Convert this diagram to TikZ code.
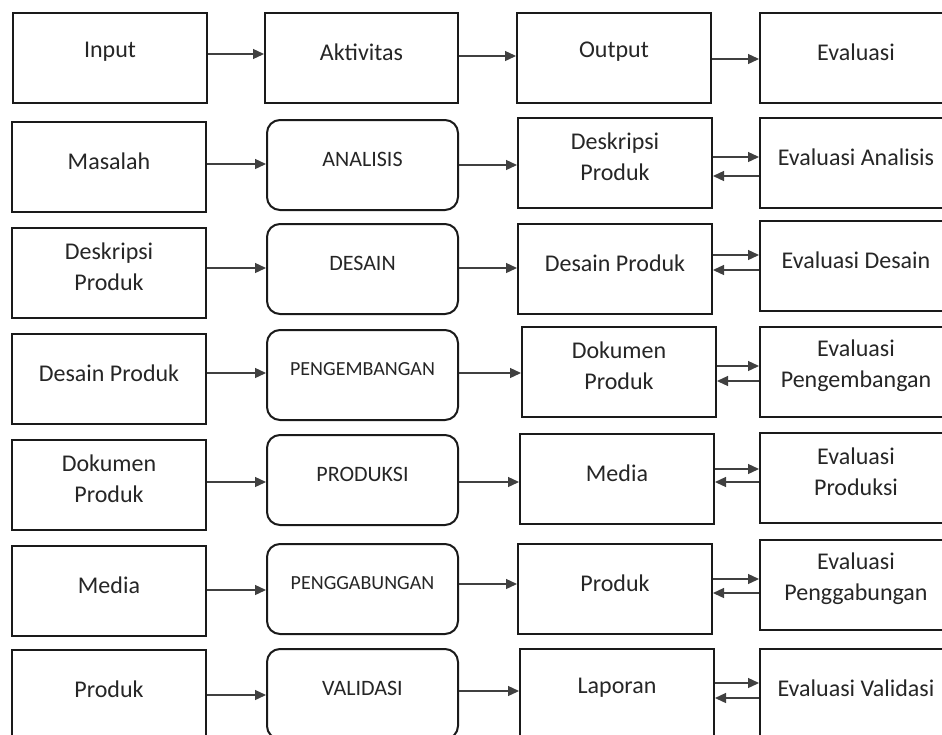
\documentclass[tikz,border=0pt]{standalone}
\usepackage{fontspec}
\setmainfont{Carlito}
\usetikzlibrary{arrows.meta}
\definecolor{edge}{HTML}{1A1A1A}
\definecolor{ink}{HTML}{262626}
\definecolor{wire}{HTML}{404040}
\begin{document}
\begin{tikzpicture}[x=1pt,y=-1pt,
  box/.style={draw=edge, line width=2pt, minimum height=90pt, inner sep=0pt, anchor=north},
  rbox/.style={box, rounded corners=13pt},
  lbl/.style={anchor=center, yshift=-40pt, inner sep=0pt, align=center, text=ink,
              font=\fontsize{24}{31}\selectfont},
  caps/.style={lbl, font=\fontsize{22}{26}\selectfont},
  capsw/.style={lbl, font=\fontsize{20}{24}\selectfont},
  conn/.style={draw=wire, line width=1.3pt, -{Triangle[length=11pt,width=10pt]}},
]
\useasboundingbox (0,0) rectangle (942,734);
\fill[white] (0,0) rectangle (942,734);
\clip (0,0) rectangle (942,734);

% header row
\node[box, minimum width=194pt, label={[lbl]north:Input}]     (h1) at (110,12) {};
\node[box, minimum width=193pt, label={[lbl]north:Aktivitas}] (h2) at (361.5,12) {};
\node[box, minimum width=194pt, label={[lbl]north:Output}]    (h3) at (614,12) {};
\node[box, minimum width=192pt, label={[lbl]north:Evaluasi}]  (h4) at (856,12) {};

% analisis
\node[box,  minimum width=194pt, label={[lbl]north:Masalah}]  (a1) at (109,121) {};
\node[rbox, minimum width=191pt, label={[caps]north:ANALISIS}] (a2) at (362.5,119) {};
\node[box,  minimum width=194pt, label={[lbl]north:{Deskripsi\\Produk}}] (a3) at (615,117) {};
\node[box,  minimum width=192pt, label={[lbl]north:Evaluasi Analisis}]  (a4) at (856,117) {};

% desain
\node[box,  minimum width=194pt, label={[lbl]north:{Deskripsi\\Produk}}] (d1) at (109,227) {};
\node[rbox, minimum width=191pt, label={[caps]north:DESAIN}]  (d2) at (362.5,223) {};
\node[box,  minimum width=194pt, label={[lbl]north:Desain Produk}]   (d3) at (615,223) {};
\node[box,  minimum width=192pt, label={[lbl]north:Evaluasi Desain}] (d4) at (856,220) {};

% pengembangan
\node[box,  minimum width=194pt, label={[lbl]north:Desain Produk}] (p1) at (109,333) {};
\node[rbox, minimum width=191pt, label={[capsw]north:PENGEMBANGAN}] (p2) at (362.5,329) {};
\node[box,  minimum width=194pt, label={[lbl]north:{Dokumen\\Produk}}] (p3) at (619,326) {};
\node[box,  minimum width=192pt, label={[lbl]north:{Evaluasi\\Pengembangan}}] (p4) at (856,326) {};

% produksi
\node[box,  minimum width=194pt, label={[lbl]north:{Dokumen\\Produk}}] (r1) at (109,439) {};
\node[rbox, minimum width=191pt, label={[caps]north:PRODUKSI}] (r2) at (362.5,434) {};
\node[box,  minimum width=194pt, label={[lbl]north:Media}] (r3) at (617,433) {};
\node[box,  minimum width=192pt, label={[lbl]north:{Evaluasi\\Produksi}}] (r4) at (856,432) {};

% penggabungan
\node[box,  minimum width=194pt, label={[lbl]north:Media}] (g1) at (109,545) {};
\node[rbox, minimum width=191pt, label={[capsw]north:PENGGABUNGAN}] (g2) at (362.5,543) {};
\node[box,  minimum width=194pt, label={[lbl]north:Produk}] (g3) at (615,543) {};
\node[box,  minimum width=192pt, label={[lbl]north:{Evaluasi\\Penggabungan}}] (g4) at (856,539) {};

% validasi
\node[box,  minimum width=194pt, label={[lbl]north:Produk}] (v1) at (109,649) {};
\node[rbox, minimum width=191pt, label={[caps]north:VALIDASI}] (v2) at (362.5,648) {};
\node[box,  minimum width=194pt, label={[lbl]north:Laporan}] (v3) at (617,648) {};
\node[box,  minimum width=192pt, label={[lbl]north:Evaluasi Validasi}] (v4) at (856,648) {};

% header connectors
\draw[conn] (h1.east |- 0,54) -- (h2.west |- 0,54);
\draw[conn] (h2.east |- 0,56) -- (h3.west |- 0,56);
\draw[conn] (h3.east |- 0,59) -- (h4.west |- 0,59);

% stage connectors
\draw[conn] (a1.east |- 0,164) -- (a2.west |- 0,164);
\draw[conn] (a2.east |- 0,165) -- (a3.west |- 0,165);
\draw[conn] (a3.east |- 0,157) -- (a4.west |- 0,157);
\draw[conn] (a4.west |- 0,176) -- (a3.east |- 0,176);

\draw[conn] (d1.east |- 0,268) -- (d2.west |- 0,268);
\draw[conn] (d2.east |- 0,268) -- (d3.west |- 0,268);
\draw[conn] (d3.east |- 0,255) -- (d4.west |- 0,255);
\draw[conn] (d4.west |- 0,270) -- (d3.east |- 0,270);

\draw[conn] (p1.east |- 0,373) -- (p2.west |- 0,373);
\draw[conn] (p2.east |- 0,373) -- (p3.west |- 0,373);
\draw[conn] (p3.east |- 0,366) -- (p4.west |- 0,366);
\draw[conn] (p4.west |- 0,381) -- (p3.east |- 0,381);

\draw[conn] (r1.east |- 0,482) -- (r2.west |- 0,482);
\draw[conn] (r2.east |- 0,482) -- (r3.west |- 0,482);
\draw[conn] (r3.east |- 0,469) -- (r4.west |- 0,469);
\draw[conn] (r4.west |- 0,482) -- (r3.east |- 0,482);

\draw[conn] (g1.east |- 0,590) -- (g2.west |- 0,590);
\draw[conn] (g2.east |- 0,584) -- (g3.west |- 0,584);
\draw[conn] (g3.east |- 0,579) -- (g4.west |- 0,579);
\draw[conn] (g4.west |- 0,593) -- (g3.east |- 0,593);

\draw[conn] (v1.east |- 0,695) -- (v2.west |- 0,695);
\draw[conn] (v2.east |- 0,691) -- (v3.west |- 0,691);
\draw[conn] (v3.east |- 0,683) -- (v4.west |- 0,683);
\draw[conn] (v4.west |- 0,698) -- (v3.east |- 0,698);
\end{tikzpicture}
\end{document}
